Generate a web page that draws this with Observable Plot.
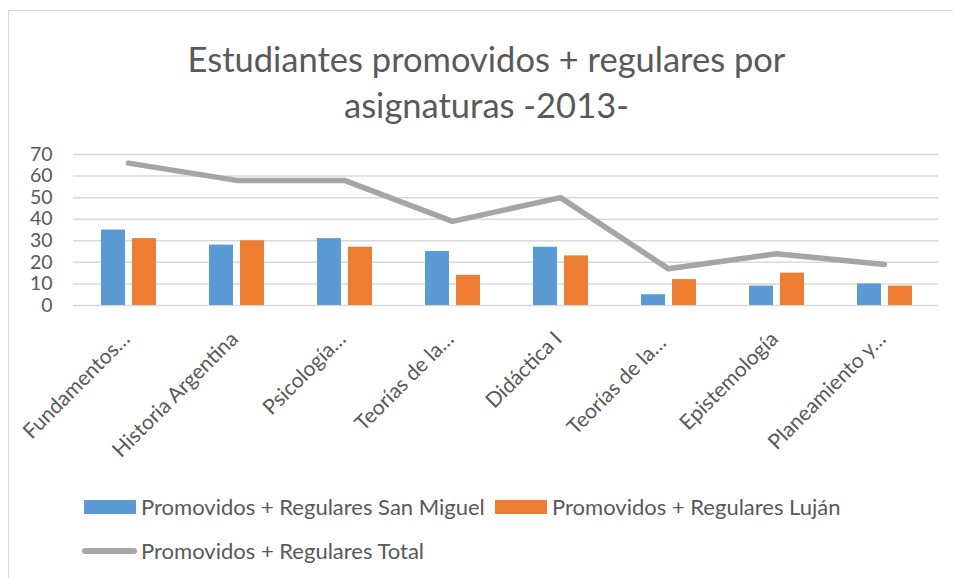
<!DOCTYPE html>
<html>
<head>
<meta charset="utf-8">
<script src="https://cdn.jsdelivr.net/npm/d3@7"></script>
<script src="https://cdn.jsdelivr.net/npm/@observablehq/plot@0.6"></script>
<style>
  html, body { margin: 0; padding: 0; background: #fff; }
  #chart { position: relative; width: 953px; height: 578px; overflow: hidden; font-family: Lato, "Open Sans", sans-serif; color: #595959; }
  #frame { position: absolute; left: 8px; top: 10px; right: -5px; bottom: -5px; border-top: 1.5px solid #d9d9d9; border-left: 1.5px solid #d9d9d9; }
  #title { position: absolute; left: 20px; width: 933px; top: 36px; text-align: center; font-size: 34.5px; line-height: 46px; color: #595959; }
  #plot { position: absolute; left: 0; top: 140px; }
  .leg { position: absolute; font-size: 22px; color: #595959; white-space: nowrap; line-height: 22px; }
  .sw { position: absolute; }
</style>
</head>
<body>
<div id="chart">
  <div id="frame"></div>
  <div id="title">Estudiantes promovidos + regulares por<br>asignaturas -2013-</div>
  <div id="plot"></div>
  <div id="legend"></div>
</div>
<script>
const categories = ["Fundamentos…", "Historia Argentina", "Psicología…", "Teorías de la…", "Didáctica I", "Teorías de la… ", "Epistemología", "Planeamiento y…"];
const sanMiguel = [35, 28, 31, 25, 27, 5, 9, 10];
const lujan = [31, 30, 27, 14, 23, 12, 15, 9];
const total = [66, 58, 58, 39, 50, 17, 24, 19];
const yTicks = [0, 10, 20, 30, 40, 50, 60, 70];
const seriesNames = ["Promovidos + Regulares San Miguel", "Promovidos + Regulares Luján", "Promovidos + Regulares Total"];
const colors = ["#5b9bd5", "#ed7d31", "#a5a5a5"];

const smRows = categories.map((c, i) => ({cat: c, value: sanMiguel[i]}));
const luRows = categories.map((c, i) => ({cat: c, value: lujan[i]}));
const toRows = categories.map((c, i) => ({cat: c, value: total[i]}));

const plot = Plot.plot({
  width: 953,
  height: 320,
  marginTop: 14,
  marginBottom: 155,
  marginLeft: 73,
  marginRight: 15,
  style: {fontFamily: "Lato, 'Open Sans', sans-serif", color: "#595959", background: "transparent", overflow: "visible"},
  x: {domain: categories, padding: 0, label: null},
  y: {domain: [0, 70], ticks: yTicks, label: null},
  marks: [
    Plot.gridY(yTicks, {stroke: "#d9d9d9", strokeOpacity: 1, strokeWidth: 1.5}),
    Plot.barY(smRows, {x: "cat", y: "value", fill: colors[0], insetLeft: 27, insetRight: 57}),
    Plot.barY(luRows, {x: "cat", y: "value", fill: colors[1], insetLeft: 58, insetRight: 26}),
    Plot.line(toRows, {x: "cat", y: "value", stroke: colors[2], strokeWidth: 5.5, strokeLinecap: "round", strokeLinejoin: "round"}),
    Plot.axisY(yTicks, {tickSize: 0, tickPadding: 21, fontSize: 19.5, fill: "#595959", label: null}),
    Plot.axisX({tickSize: 0, tickPadding: 16, dx: -2, dy: 14, tickRotate: -45, fontSize: 21, fill: "#595959", label: null})
  ]
});
document.getElementById("plot").appendChild(plot);

// legend
const leg = document.getElementById("legend");
const items = [
  {name: seriesNames[0], color: colors[0], type: "rect", x: 84, y: 507},
  {name: seriesNames[1], color: colors[1], type: "rect", x: 495, y: 507},
  {name: seriesNames[2], color: colors[2], type: "line", x: 82, y: 551}
];
items.forEach(it => {
  const sw = document.createElement("div");
  sw.className = "sw";
  if (it.type === "rect") {
    Object.assign(sw.style, {left: it.x + "px", top: (it.y - 7) + "px", width: "52px", height: "14px", background: it.color});
  } else {
    Object.assign(sw.style, {left: it.x + "px", top: (it.y - 3) + "px", width: "55px", height: "6px", background: it.color, borderRadius: "3px"});
  }
  leg.appendChild(sw);
  const t = document.createElement("div");
  t.className = "leg";
  t.textContent = it.name;
  Object.assign(t.style, {left: (it.x + (it.type === "rect" ? 57 : 59)) + "px", top: (it.y - 11) + "px"});
  leg.appendChild(t);
});
</script>
</body>
</html>
